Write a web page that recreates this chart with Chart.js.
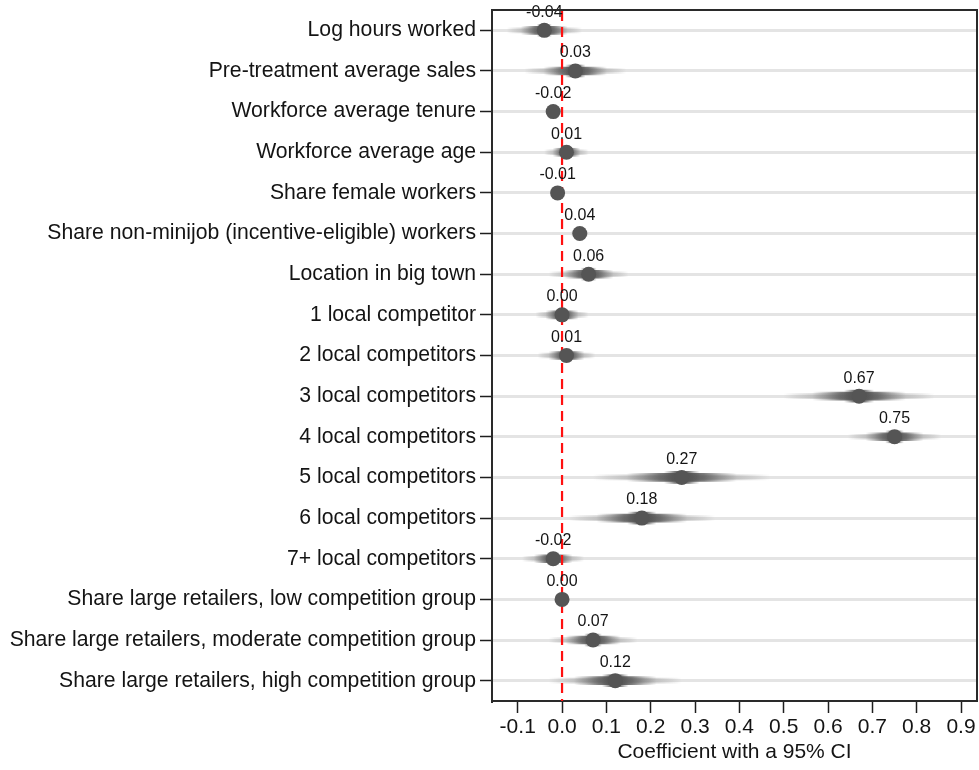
<!DOCTYPE html>
<html>
<head>
<meta charset="utf-8">
<script src="https://cdn.jsdelivr.net/npm/chart.js@4.4.1/dist/chart.umd.min.js"></script>
<style>
  html, body { margin: 0; padding: 0; background: #fff; }
  #wrap { width: 979px; height: 770px; position: relative; }
</style>
</head>
<body>
<div id="wrap"><canvas id="c" width="979" height="770"></canvas></div>
<script>
// Covariates (top to bottom)
const categories = [
  'Log hours worked',
  'Pre-treatment average sales',
  'Workforce average tenure',
  'Workforce average age',
  'Share female workers',
  'Share non-minijob (incentive-eligible) workers',
  'Location in big town',
  '1 local competitor',
  '2 local competitors',
  '3 local competitors',
  '4 local competitors',
  '5 local competitors',
  '6 local competitors',
  '7+ local competitors',
  'Share large retailers, low competition group',
  'Share large retailers, moderate competition group',
  'Share large retailers, high competition group'
];

// Point estimates
const coefficients = [-0.04, 0.03, -0.02, 0.01, -0.01, 0.04, 0.06, 0.00, 0.01,
                      0.67, 0.75, 0.27, 0.18, -0.02, 0.00, 0.07, 0.12];

// Half-width of the confidence band around each estimate
const ciHalf = [0.085, 0.115, 0.01, 0.05, 0.008, 0.02, 0.09, 0.06, 0.065,
                0.17, 0.105, 0.20, 0.165, 0.07, 0.005, 0.10, 0.15];

// X axis tick values
const xTicks = [-0.1, 0.0, 0.1, 0.2, 0.3, 0.4, 0.5, 0.6, 0.7, 0.8, 0.9];

const FONT = '"Liberation Sans", Arial, Helvetica, sans-serif';
const INK = '#141414';

// "Smoke" band: floating bars filled with a horizontal gradient that
// is densest at the estimate and fades out toward the band's ends.
function smokeFill(frac, peak, profile) {
  return (c) => {
    const chart = c.chart;
    const xs = chart.scales.x;
    const i = c.dataIndex;
    if (!xs || i === undefined || !chart.chartArea) return `rgba(85,85,85,${peak})`;
    const lo = xs.getPixelForValue(coefficients[i] - frac * ciHalf[i]);
    const hi = xs.getPixelForValue(coefficients[i] + frac * ciHalf[i]);
    if (!(hi - lo > 0.5)) return `rgba(85,85,85,${peak})`;
    const g = chart.ctx.createLinearGradient(lo, 0, hi, 0);
    profile.forEach(([p, a]) => g.addColorStop(p, `rgba(85,85,85,${(a * peak).toFixed(3)})`));
    return g;
  };
}

const outerProfile = [[0, 0], [0.08, 0.25], [0.2, 0.55], [0.35, 0.85], [0.5, 1],
                      [0.65, 0.85], [0.8, 0.55], [0.92, 0.25], [1, 0]];
const coreProfile = [[0, 0], [0.15, 0.35], [0.3, 0.8], [0.42, 1], [0.58, 1],
                     [0.7, 0.8], [0.85, 0.35], [1, 0]];

const smokeLayers = [
  { frac: 1.00, thick: 5, peak: 0.45, profile: outerProfile },
  { frac: 0.62, thick: 8, peak: 0.95, profile: coreProfile },
  { frac: 0.20, thick: 12, peak: 0.95, profile: coreProfile }
];

const smokeDatasets = smokeLayers.map(l => ({
  type: 'bar',
  data: coefficients.map((c, i) => [c - l.frac * ciHalf[i], c + l.frac * ciHalf[i]]),
  backgroundColor: smokeFill(l.frac, l.peak, l.profile),
  borderWidth: 0,
  borderSkipped: false,
  barThickness: l.thick,
  grouped: false
}));

const pointDataset = {
  type: 'scatter',
  data: coefficients.map((c, i) => ({ x: c, y: categories[i] })),
  backgroundColor: '#555555',
  borderColor: '#555555',
  borderWidth: 0,
  pointRadius: 7.5,
  pointHoverRadius: 7.5
};

// Plot frame, zero reference line and value labels
const decorations = {
  id: 'decorations',
  beforeDatasetDraw(chart, args) {
    if (args.index !== 0) return;
    const { ctx, chartArea } = chart;
    const x0 = chart.scales.x.getPixelForValue(0);
    ctx.save();
    ctx.strokeStyle = '#ff1010';
    ctx.lineWidth = 2.2;
    ctx.setLineDash([10, 6]);
    ctx.beginPath();
    ctx.moveTo(x0, chartArea.top + 1);
    ctx.lineTo(x0, chartArea.bottom);
    ctx.stroke();
    ctx.restore();
  },
  afterDatasetsDraw(chart) {
    const { ctx, chartArea } = chart;
    const xs = chart.scales.x, ys = chart.scales.y;
    ctx.save();
    ctx.fillStyle = INK;
    ctx.font = `16px ${FONT}`;
    ctx.textAlign = 'center';
    ctx.textBaseline = 'middle';
    coefficients.forEach((c, i) => {
      ctx.fillText(c.toFixed(2), xs.getPixelForValue(c), ys.getPixelForValue(i) - 18);
    });
    ctx.strokeStyle = '#2a2a2a';
    ctx.lineWidth = 2;
    ctx.beginPath();
    ctx.moveTo(chartArea.left, chartArea.top);
    ctx.lineTo(chartArea.right, chartArea.top);
    ctx.lineTo(chartArea.right, chartArea.bottom);
    ctx.stroke();
    ctx.restore();
  }
};

new Chart(document.getElementById('c'), {
  type: 'bar',
  data: {
    labels: categories,
    datasets: [pointDataset, ...smokeDatasets]
  },
  options: {
    indexAxis: 'y',
    responsive: false,
    animation: false,
    events: [],
    layout: { autoPadding: false, padding: { top: 10, right: 2, bottom: 0, left: 0 } },
    plugins: { legend: { display: false }, tooltip: { enabled: false } },
    scales: {
      x: {
        type: 'linear',
        min: -0.158,
        max: 0.936,
        afterBuildTicks(scale) { scale.ticks = xTicks.map(v => ({ value: v })); },
        afterFit(scale) { scale.height = 69; scale.paddingLeft = 0; scale.paddingRight = 0; },
        ticks: {
          color: INK,
          font: { family: FONT, size: 21 },
          padding: 2,
          maxRotation: 0,
          autoSkip: false,
          callback: v => Number(v).toFixed(1)
        },
        grid: {
          drawOnChartArea: false,
          drawTicks: true,
          tickLength: 12,
          tickColor: '#1e1e1e',
          tickWidth: 1.5
        },
        border: { display: true, color: '#2a2a2a', width: 2 },
        title: {
          display: true,
          text: 'Coefficient with a 95% CI',
          color: INK,
          font: { family: FONT, size: 21 },
          padding: { top: 0, bottom: 5 }
        }
      },
      y: {
        type: 'category',
        offset: true,
        afterFit(scale) { scale.width = 492; scale.paddingTop = 0; scale.paddingBottom = 0; },
        ticks: {
          color: INK,
          font: { family: FONT, size: 21.2 },
          padding: 4,
          autoSkip: false
        },
        grid: {
          offset: false,
          color: '#e4e4e4',
          lineWidth: 3,
          drawTicks: true,
          tickLength: 12,
          tickColor: '#1e1e1e',
          tickWidth: 1.5
        },
        border: { display: true, color: '#2a2a2a', width: 2 }
      }
    }
  },
  plugins: [decorations]
});
</script>
</body>
</html>
